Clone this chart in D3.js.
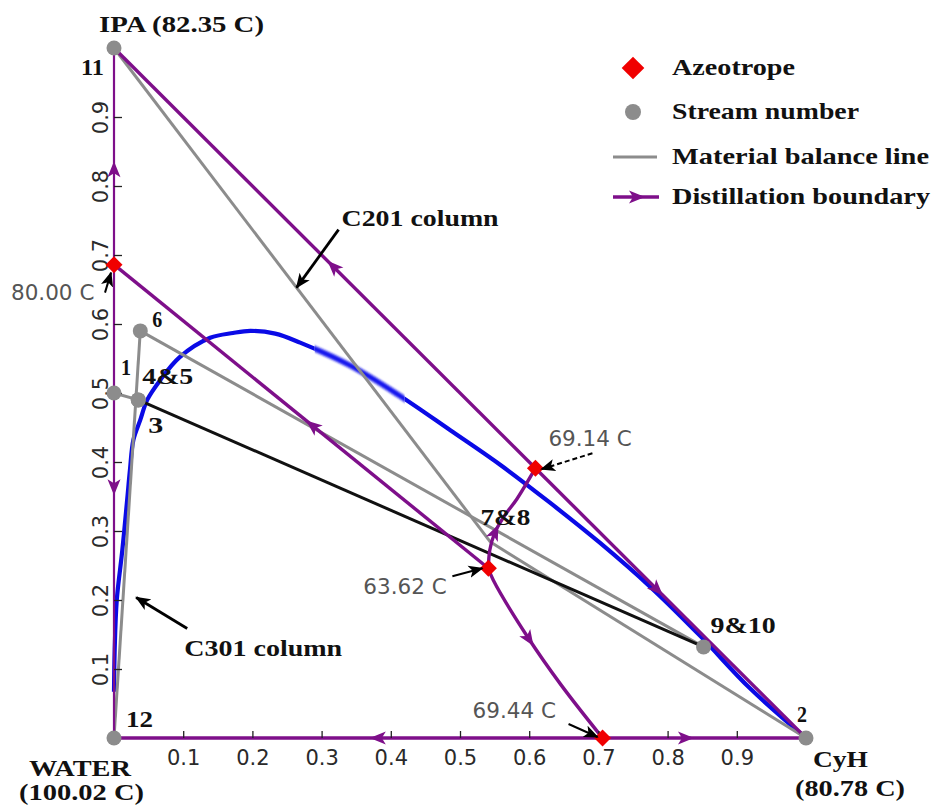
<!DOCTYPE html>
<html>
<head>
<meta charset="utf-8">
<script src="https://cdn.jsdelivr.net/npm/d3@7"></script>
<style>
  body { margin: 0; background: #ffffff; }
  svg { display: block; }
</style>
</head>
<body>
<svg id="chart" width="936" height="807"></svg>
<script>
// ---------- data (x = CyH mole fraction, y = IPA mole fraction) ----------
const tickValues = [0.1, 0.2, 0.3, 0.4, 0.5, 0.6, 0.7, 0.8, 0.9];
const tickLabels = ["0.1", "0.2", "0.3", "0.4", "0.5", "0.6", "0.7", "0.8", "0.9"];

// pure components
const componentNames = ["IPA", "WATER", "CyH"];
const componentBoiling = ["82.35 C", "100.02 C", "80.78 C"];

// process streams
const streamIds = ["11", "1", "4&5", "3", "6", "12", "2", "9&10", "7&8"];
const streamX   = [0.000, 0.000, 0.035, 0.035, 0.038, 0.000, 1.000, 0.852, 0.544];
const streamY   = [1.000, 0.500, 0.490, 0.490, 0.590, 0.000, 0.000, 0.132, 0.284];
const hiddenStreams = ["7&8"];

// azeotropes
const azeoLabels = ["80.00 C", "69.14 C", "63.62 C", "69.44 C"];
const azeoX = [0.000, 0.609, 0.541, 0.706];
const azeoY = [0.686, 0.391, 0.246, 0.000];

// liquid-liquid envelope
const binodalX = [0.000, 0.001, 0.004, 0.012, 0.019, 0.023, 0.028, 0.038, 0.048, 0.067, 0.095, 0.139, 0.172, 0.197, 0.233, 0.269, 0.341, 0.413, 0.486, 0.558, 0.630, 0.702, 0.775, 0.847, 0.919, 1.000];
const binodalY = [0.067, 0.128, 0.200, 0.272, 0.345, 0.388, 0.432, 0.461, 0.490, 0.519, 0.552, 0.580, 0.587, 0.590, 0.586, 0.573, 0.540, 0.496, 0.446, 0.396, 0.341, 0.283, 0.219, 0.148, 0.072, 0.000];

// distillation boundaries, each running from low to high boiling point
const boundaryPaths = [
  [[0.000, 0.686], [0.000, 1.000]],
  [[0.000, 0.686], [0.000, 0.000]],
  [[0.706, 0.000], [0.000, 0.000]],
  [[0.706, 0.000], [1.000, 0.000]],
  [[0.609, 0.391], [0.000, 1.000]],
  [[0.609, 0.391], [1.000, 0.000]],
  [[0.541, 0.246], [0.000, 0.686]],
  [[0.541, 0.246], [0.543, 0.272], [0.550, 0.297], [0.565, 0.323], [0.582, 0.346], [0.609, 0.391]],
  [[0.541, 0.246], [0.548, 0.229], [0.598, 0.146], [0.646, 0.077], [0.706, 0.000]]
];
const boundaryArrowAt = [0.44, 0.47, 0.46, 0.41, 0.48, 0.45, 0.47, 0.33, 0.40];

// material balance lines between streams
const balanceLines = [["12", "6"], ["1", "4&5"], ["6", "9&10"], ["11", "7&8"], ["7&8", "2"]];
const decanterLine = ["3", "9&10"];

// legend entries
const legendItems = ["Azeotrope", "Stream number", "Material balance line", "Distillation boundary"];

// ---------- drawing ----------
const svg = d3.select("#chart");
const x = d3.scaleLinear().domain([0, 1]).range([114, 806]);
const y = d3.scaleLinear().domain([0, 1]).range([738, 48]);

const PURPLE = "#7e0f8a";
const GRAY = "#8c8c8c";
const BLUE = "#0a0ae6";
const RED = "#f00000";
const SERIF = "'Liberation Serif', 'Times New Roman', serif";
const SANS = "'DejaVu Sans', Verdana, sans-serif";

const streamPos = {};
streamIds.forEach((id, i) => { streamPos[id] = [x(streamX[i]), y(streamY[i])]; });
const azeoPos = azeoX.map((v, i) => [x(v), y(azeoY[i])]);

const defs = svg.append("defs");
defs.append("filter").attr("id", "soft")
  .attr("x", "-10%").attr("y", "-50%").attr("width", "120%").attr("height", "200%")
  .append("feGaussianBlur").attr("stdDeviation", 1.3);
defs.append("marker").attr("id", "blackHead")
  .attr("viewBox", "0 0 12 10").attr("refX", 11).attr("refY", 5)
  .attr("markerUnits", "userSpaceOnUse").attr("markerWidth", 15).attr("markerHeight", 13)
  .attr("orient", "auto")
  .append("path").attr("d", "M0,0 L12,5 L0,10 L3,5 Z").attr("fill", "#000");

const clipA = defs.append("clipPath").attr("id", "sharpPart");
clipA.append("rect").attr("x", 0).attr("y", 0).attr("width", x(0.29)).attr("height", 807);
clipA.append("rect").attr("x", x(0.42)).attr("y", 0).attr("width", 936).attr("height", 807);
defs.append("clipPath").attr("id", "softPart")
  .append("rect").attr("x", x(0.29)).attr("y", 0).attr("width", x(0.42) - x(0.29)).attr("height", 807);

// liquid-liquid envelope
const binodal = binodalX.map((v, i) => [x(v), y(binodalY[i])]);
const curve = d3.line().curve(d3.curveCatmullRom.alpha(0.5));
svg.append("path").attr("d", curve(binodal))
  .attr("fill", "none").attr("stroke", BLUE).attr("stroke-width", 4.2)
  .attr("clip-path", "url(#sharpPart)");
svg.append("g").attr("clip-path", "url(#softPart)")
  .append("path").attr("d", curve(binodal))
  .attr("fill", "none").attr("stroke", "#1818ee").attr("stroke-width", 5.5)
  .attr("filter", "url(#soft)");

// material balance lines
const straight = d3.line();
svg.append("g").selectAll("path").data(balanceLines).join("path")
  .attr("d", d => straight([streamPos[d[0]], streamPos[d[1]]]))
  .attr("fill", "none").attr("stroke", GRAY).attr("stroke-width", 3);
svg.append("path").attr("d", straight([streamPos[decanterLine[0]], streamPos[decanterLine[1]]]))
  .attr("fill", "none").attr("stroke", "#111").attr("stroke-width", 3);

// distillation boundaries with direction arrows
const arrowShape = "M8,0 L-8,-6.5 L-4,0 L-8,6.5 Z";
const smooth = d3.line().curve(d3.curveCatmullRom.alpha(0.5));
const bGroup = svg.append("g");
boundaryPaths.forEach((pts, i) => {
  const onAxis = pts.every(p => p[0] === 0);
  const gen = pts.length > 2 ? smooth : straight;
  const path = bGroup.append("path")
    .attr("d", gen(pts.map(p => [x(p[0]), y(p[1])])))
    .attr("fill", "none").attr("stroke", PURPLE)
    .attr("stroke-width", onAxis ? 2.2 : 3.4)
    .attr("stroke-linejoin", "round");
  const node = path.node();
  const L = node.getTotalLength();
  const s = boundaryArrowAt[i] * L;
  const p = node.getPointAtLength(s);
  const a = node.getPointAtLength(Math.max(0, s - 2));
  const b = node.getPointAtLength(Math.min(L, s + 2));
  const ang = Math.atan2(b.y - a.y, b.x - a.x) * 180 / Math.PI;
  bGroup.append("path").attr("d", arrowShape).attr("fill", PURPLE)
    .attr("transform", `translate(${p.x},${p.y}) rotate(${ang})`);
});

// axes: ticks point inward, labels outside
const xAxis = d3.axisBottom(x).tickValues(tickValues)
  .tickFormat((d, i) => tickLabels[i]).tickSize(-7).tickPadding(12);
const gx = svg.append("g").attr("transform", `translate(0,${y(0)})`).call(xAxis);
gx.select(".domain").remove();
gx.selectAll("line").attr("stroke", "#222").attr("stroke-width", 1.3);
gx.selectAll("text").attr("font-family", SANS).attr("font-size", 21).attr("fill", "#2a2a2a");

const yAxis = d3.axisLeft(y).tickValues(tickValues)
  .tickFormat((d, i) => tickLabels[i]).tickSize(-8);
const gy = svg.append("g").attr("transform", `translate(${x(0)},0)`).call(yAxis);
gy.select(".domain").remove();
gy.selectAll("line").attr("stroke", "#222").attr("stroke-width", 1.3);
gy.selectAll("text")
  .attr("x", null).attr("dy", null)
  .attr("transform", "translate(-6,0) rotate(-90)")
  .attr("text-anchor", "middle")
  .attr("font-family", SANS).attr("font-size", 21).attr("fill", "#2a2a2a");

// stream points
svg.append("g").selectAll("circle")
  .data(streamIds.filter(id => !hiddenStreams.includes(id))).join("circle")
  .attr("cx", id => streamPos[id][0]).attr("cy", id => streamPos[id][1])
  .attr("r", 7.5).attr("fill", GRAY);

// azeotropes
svg.append("g").selectAll("rect").data(azeoPos).join("rect")
  .attr("x", -6).attr("y", -6).attr("width", 12).attr("height", 12)
  .attr("fill", RED)
  .attr("transform", d => `translate(${d[0]},${d[1]}) rotate(45)`);

// bold serif label helper (width fitted to the glyph run)
function boldText(txt, left, base, width, size) {
  svg.append("text").text(txt)
    .attr("x", left).attr("y", base)
    .attr("font-family", SERIF).attr("font-weight", "bold")
    .attr("font-size", size || 24).attr("fill", "#111")
    .attr("textLength", width).attr("lengthAdjust", "spacingAndGlyphs");
}

// stream labels: offset of left edge / baseline from the point, and width
const streamLabelLayout = {
  "11":   [-33, 27, 23],
  "1":    [7, -18, 10],
  "4&5":  [4, -16, 51],
  "3":    [10, 33, 15],
  "6":    [12, -4, 10],
  "12":   [12, -11, 27],
  "2":    [-9, -16, 10],
  "9&10": [7, -14, 65],
  "7&8":  [-10, -17, 50]
};
streamIds.forEach(id => {
  const [dx, dy, w] = streamLabelLayout[id];
  boldText(id, streamPos[id][0] + dx, streamPos[id][1] + dy, w);
});

// pure component labels
const ipa = [x(0), y(1)], water = [x(0), y(0)], cyh = [x(1), y(0)];
boldText(`${componentNames[0]} (${componentBoiling[0]})`, ipa[0] - 15, ipa[1] - 16, 165);
boldText(componentNames[1], water[0] - 85, water[1] + 38, 102);
boldText(`(${componentBoiling[1]})`, water[0] - 95, water[1] + 62, 125);
boldText(componentNames[2], cyh[0] + 7, cyh[1] + 29, 55);
boldText(`(${componentBoiling[2]})`, cyh[0] - 11, cyh[1] + 58, 110);

// azeotrope temperature notes with pointer arrows
const azeoNoteLayout = [
  { tx: -103, ty: 35, tail: [-9, 28], head: [-3, 8] },
  { tx: 13, ty: -22, tail: [57, -15], head: [6, 1], dash: "5,3" },
  { tx: -125, ty: 26, tail: [-36, 8], head: [-6, 0] },
  { tx: -130, ty: -20, tail: [-34, -14], head: [-5, -1] }
];
azeoLabels.forEach((lab, i) => {
  const [ax, ay] = azeoPos[i];
  const L = azeoNoteLayout[i];
  svg.append("text").text(lab)
    .attr("x", ax + L.tx).attr("y", ay + L.ty)
    .attr("font-family", SANS).attr("font-size", 21.5).attr("fill", "#555");
  svg.append("line")
    .attr("x1", ax + L.tail[0]).attr("y1", ay + L.tail[1])
    .attr("x2", ax + L.head[0]).attr("y2", ay + L.head[1])
    .attr("stroke", "#000").attr("stroke-width", 2)
    .attr("stroke-dasharray", L.dash || null)
    .attr("marker-end", "url(#blackHead)");
});

// column annotations
function along(a, b, t) {
  const p = streamPos[a], q = streamPos[b];
  return [p[0] + (q[0] - p[0]) * t, p[1] + (q[1] - p[1]) * t];
}
const c201 = along("11", "7&8", 0.485);
svg.append("line")
  .attr("x1", c201[0] + 42).attr("y1", c201[1] - 58)
  .attr("x2", c201[0]).attr("y2", c201[1])
  .attr("stroke", "#000").attr("stroke-width", 2.8).attr("marker-end", "url(#blackHead)");
boldText("C201 column", c201[0] + 45, c201[1] - 62, 157);

const c301 = along("12", "6", 0.35);
svg.append("line")
  .attr("x1", c301[0] + 64).attr("y1", c301[1] + 33)
  .attr("x2", c301[0] + 13).attr("y2", c301[1] + 2)
  .attr("stroke", "#000").attr("stroke-width", 2.8).attr("marker-end", "url(#blackHead)");
boldText("C301 column", c301[0] + 61, c301[1] + 60, 158);

// legend
const legend = svg.append("g").attr("transform", "translate(613,0)");
const rowY = [68, 112, 157, 197];
const legendWidths = [123, 187, 257, 258];
legend.append("rect").attr("x", -8).attr("y", -8).attr("width", 16).attr("height", 16)
  .attr("fill", RED).attr("transform", `translate(20,${rowY[0]}) rotate(45)`);
legend.append("circle").attr("cx", 20).attr("cy", rowY[1]).attr("r", 8).attr("fill", GRAY);
legend.append("line").attr("x1", 0).attr("x2", 44).attr("y1", rowY[2]).attr("y2", rowY[2])
  .attr("stroke", GRAY).attr("stroke-width", 3);
legend.append("line").attr("x1", 0).attr("x2", 46).attr("y1", rowY[3]).attr("y2", rowY[3])
  .attr("stroke", PURPLE).attr("stroke-width", 3.4);
legend.append("path").attr("d", arrowShape).attr("fill", PURPLE)
  .attr("transform", `translate(24,${rowY[3]})`);
legendItems.forEach((t, i) => {
  legend.append("text").text(t)
    .attr("x", 59).attr("y", rowY[i] + 7)
    .attr("font-family", SERIF).attr("font-weight", "bold")
    .attr("font-size", 23).attr("fill", "#111")
    .attr("textLength", legendWidths[i]).attr("lengthAdjust", "spacingAndGlyphs");
});
</script>
</body>
</html>
